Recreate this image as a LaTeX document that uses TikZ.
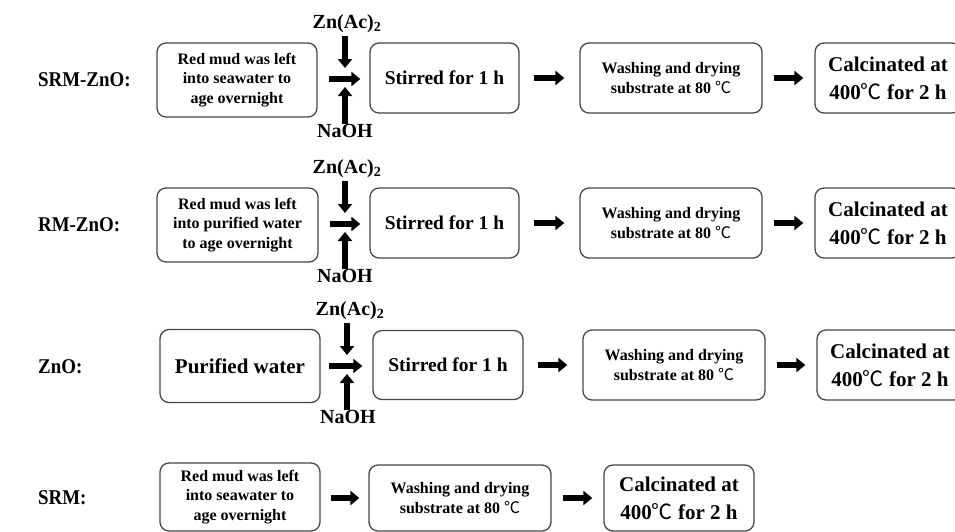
\documentclass[tikz,border=0pt]{standalone}
\usepackage{fontspec}
\setmainfont{Liberation Serif}
\newfontfamily\cjk{Noto Sans CJK SC}
\newfontfamily\labfont{Liberation Serif}[FakeStretch=0.9]
\usetikzlibrary{arrows.meta}
\newcommand{\degC}{{\cjk\mdseries ℃}}
\begin{document}
\begin{tikzpicture}[x=1pt,y=-1pt,
  box/.style={draw=black!72, line width=1.3pt, rounded corners=9pt, align=center, inner sep=0pt, font=\bfseries},
  small/.style={font=\bfseries\fontsize{16}{19.5}\selectfont},
  mid/.style={font=\bfseries\fontsize{19.5}{23}\selectfont},
  big/.style={font=\bfseries\fontsize{21}{28}\selectfont},
  lab/.style={font=\bfseries\fontsize{20}{24}\selectfont, inner sep=0pt},
  rowlab/.style={font=\labfont\bfseries\fontsize{21}{24}\selectfont, inner sep=0pt, anchor=west},
  flow/.style={line width=5.5pt, -{Triangle[length=9pt,width=14pt]}},
]
\useasboundingbox (0,0) rectangle (955,531);
\clip (0,0) rectangle (955,531);

% ---------- Row 1: SRM-ZnO ----------
\node[rowlab] (l1) at (38,80) {SRM-ZnO:\,};
\node[box, small, minimum width=160pt, minimum height=74pt] (a1) at (237,80) {Red mud was left\\into seawater to\\age overnight};
\node[box, mid, minimum width=149pt, minimum height=70pt] (a2) at (444.5,78) {Stirred for 1 h};
\node[box, small, minimum width=182pt, minimum height=70pt] (a3) at (671,78) {Washing and drying\\substrate at 80 \degC};
\node[box, big, minimum width=146pt, minimum height=70pt] (a4) at (888,78) {Calcinated at\\400\degC{} for 2 h};
\node[lab] (z1) at (347,24) {Zn(Ac)$_{\mathbf 2}$};
\node[lab] (n1) at (345,131) {NaOH};
\coordinate (m1) at (345,79);
\draw[flow, shorten <=3pt] (z1.south -| m1) -- ([yshift=11pt]m1);
\draw[flow] (n1.north -| m1) -- ([yshift=-8pt]m1);
\draw[flow] ([xshift=11pt]a1.east |- m1) -- ([xshift=-9pt]a2.west |- m1);
\draw[flow, shorten <=14pt, shorten >=15pt] (a2.east) -- (a3.west);
\draw[flow, shorten <=11pt, shorten >=11pt] (a3.east) -- (a4.west);

% ---------- Row 2: RM-ZnO ----------
\node[rowlab] (l2) at (38,225) {RM-ZnO:\,};
\node[box, small, minimum width=161pt, minimum height=74pt] (b1) at (237.5,225) {Red mud was left\\into purified water\\to age overnight};
\node[box, mid, minimum width=149pt, minimum height=70pt] (b2) at (444.5,223) {Stirred for 1 h};
\node[box, small, minimum width=182pt, minimum height=70pt] (b3) at (671,223) {Washing and drying\\substrate at 80 \degC};
\node[box, big, minimum width=146pt, minimum height=70pt] (b4) at (888,223) {Calcinated at\\400\degC{} for 2 h};
\node[lab] (z2) at (347,169) {Zn(Ac)$_{\mathbf 2}$};
\node[lab] (n2) at (345,276) {NaOH};
\coordinate (m2) at (345,224);
\draw[flow, shorten <=3pt] (z2.south -| m2) -- ([yshift=11pt]m2);
\draw[flow] (n2.north -| m2) -- ([yshift=-8pt]m2);
\draw[flow] ([xshift=11pt]b1.east |- m2) -- ([xshift=-9pt]b2.west |- m2);
\draw[flow, shorten <=14pt, shorten >=15pt] (b2.east) -- (b3.west);
\draw[flow, shorten <=11pt, shorten >=11pt] (b3.east) -- (b4.west);

% ---------- Row 3: ZnO ----------
\node[rowlab] (l3) at (38,367) {ZnO:\,};
\node[box, big, minimum width=160pt, minimum height=73pt] (c1) at (240,366) {Purified water};
\node[box, mid, minimum width=150pt, minimum height=69pt] (c2) at (448,365) {Stirred for 1 h};
\node[box, small, minimum width=182pt, minimum height=70pt] (c3) at (674,365) {Washing and drying\\substrate at 80 \degC};
\node[box, big, minimum width=146pt, minimum height=70pt] (c4) at (890,365) {Calcinated at\\400\degC{} for 2 h};
\node[lab] (z3) at (350,311) {Zn(Ac)$_{\mathbf 2}$};
\node[lab] (n3) at (348,417) {NaOH};
\coordinate (m3) at (347,366);
\draw[flow, shorten <=3pt] (z3.south -| m3) -- ([yshift=11pt]m3);
\draw[flow] (n3.north -| m3) -- ([yshift=-8pt]m3);
\draw[flow] ([xshift=8pt]c1.east |- m3) -- ([xshift=-10pt]c2.west |- m3);
\draw[flow, shorten <=14pt, shorten >=15pt] (c2.east) -- (c3.west);
\draw[flow, shorten <=11pt, shorten >=11pt] (c3.east) -- (c4.west);

% ---------- Row 4: SRM ----------
\node[rowlab] (l4) at (38,498) {SRM:\,};
\node[box, small, minimum width=160pt, minimum height=68pt] (d1) at (240,497) {Red mud was left\\into seawater to\\age overnight};
\node[box, small, minimum width=182pt, minimum height=66pt] (d2) at (460,498) {Washing and drying\\substrate at 80 \degC};
\node[box, big, minimum width=150pt, minimum height=66pt] (d3) at (679,498) {Calcinated at\\400\degC{} for 2 h};
\draw[flow, shorten <=10pt, shorten >=9pt] (d1.east |- d2.west) -- (d2.west);
\draw[flow, shorten <=11pt, shorten >=11pt] (d2.east) -- (d3.west);
\end{tikzpicture}
\end{document}
